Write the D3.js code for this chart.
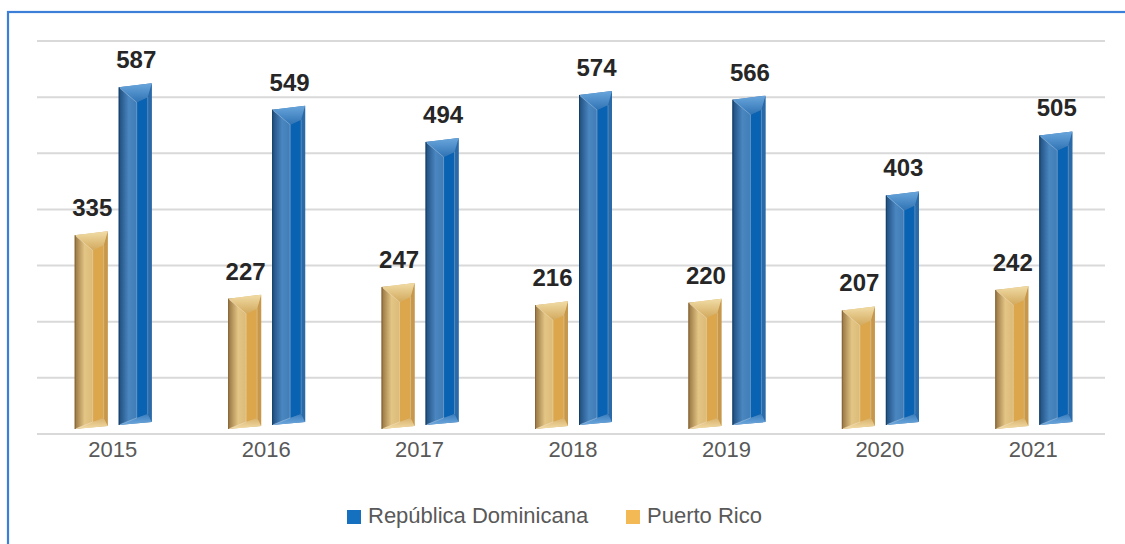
<!DOCTYPE html>
<html>
<head>
<meta charset="utf-8">
<script src="https://cdn.jsdelivr.net/npm/d3@7"></script>
<style>
  html,body{margin:0;padding:0;background:#fff;}
  svg{display:block;font-family:Arial,"Liberation Sans",sans-serif;}
</style>
</head>
<body>
<div id="chart"></div>
<script>
"use strict";
// columnas biseladas tipo Excel: Puerto Rico vs República Dominicana, 2015–2021
const years = ["2015","2016","2017","2018","2019","2020","2021"];
const puertoRico = [335,227,247,216,220,207,242];
const repDominicana = [587,549,494,574,566,403,505];
const seriesNames = ["República Dominicana","Puerto Rico"];
const gridSteps = [0,1,2,3,4,5,6,7];

const W = 1125, H = 544;
const svg = d3.select("#chart").append("svg").attr("width",W).attr("height",H);
const defs = svg.append("defs");

// paletas por serie: cara izquierda (gradiente), frente, canto derecho, tapa
const PAL = {
  rd: { l0:"#1d4c7c", l1:"#4a86c0", l2:"#2f6aa5", front:"#0a63b2", right:"#2a6aa8", cap0:"#6aa6dc", cap1:"#2f73b4", bot0:"#6fa9de", bot1:"#3a7dbd", edge:"#173f66" },
  pr: { l0:"#96733f", l1:"#e3c585", l2:"#d0a860", front:"#dba64c", right:"#c7984c", cap0:"#f1dca6", cap1:"#d2a95d", bot0:"#f3dda8", bot1:"#d8b06a", edge:"#86663a" }
};
Object.entries(PAL).forEach(([k,p])=>{
  const lg = defs.append("linearGradient").attr("id","left_"+k).attr("x1","0").attr("x2","1").attr("y1","0").attr("y2","0");
  lg.append("stop").attr("offset","0%").attr("stop-color",p.l0);
  lg.append("stop").attr("offset","30%").attr("stop-color",p.l1);
  lg.append("stop").attr("offset","100%").attr("stop-color",p.l2);
  const cg = defs.append("linearGradient").attr("id","cap_"+k).attr("x1","0").attr("x2","0").attr("y1","0").attr("y2","1");
  cg.append("stop").attr("offset","0%").attr("stop-color",p.cap0);
  cg.append("stop").attr("offset","100%").attr("stop-color",p.cap1);
  const bg = defs.append("linearGradient").attr("id","bot_"+k).attr("x1","0").attr("x2","0").attr("y1","1").attr("y2","0");
  bg.append("stop").attr("offset","0%").attr("stop-color",p.bot0);
  bg.append("stop").attr("offset","100%").attr("stop-color",p.bot1);
});

// marco azul (solo se ven arriba e izquierda)
svg.append("rect").attr("x",8).attr("y",12).attr("width",W+20).attr("height",H+20)
  .attr("fill","none").attr("stroke","#3b7fd8").attr("stroke-width",2.2);

const x = d3.scaleBand().domain(years).range([36,1110]);
const y = d3.scaleLinear().domain([0,700]).range([432,21]);
const yGrid = d3.scaleLinear().domain([0,7]).range([434,41]);

// rejilla
svg.append("g").selectAll("line").data(gridSteps).join("line")
  .attr("x1",37).attr("x2",1105)
  .attr("y1",(d)=>yGrid(d)).attr("y2",(d)=>yGrid(d))
  .attr("stroke","#d9d9d9").attr("stroke-width",2);

// eje X (solo etiquetas)
const xAxis = svg.append("g").attr("transform","translate(0,434)")
  .call(d3.axisBottom(x).tickSize(0).tickPadding(0));
xAxis.select(".domain").remove();
xAxis.selectAll("text").attr("y",23).attr("dy",0).attr("font-size",22).attr("fill","#595959")
  .attr("font-family","Arial,'Liberation Sans',sans-serif");

const BW = 33, GAP = 10, RIDGE = 18, RIN = 29, SLANT = 4;
const bars = [];
years.forEach((yr,i)=>{
  const c = x(yr) + x.bandwidth()/2;
  bars.push({ k:"pr", v:puertoRico[i], x0:c - GAP/2 - BW, bot:y(0)-3 });
  bars.push({ k:"rd", v:repDominicana[i], x0:c + GAP/2 + 1, bot:y(0)-7 });
});

const pts = (a)=> a.map((p)=>p.join(",")).join(" ");
const bg = svg.append("g").selectAll("g").data(bars).join("g");
bg.each(function(d){
  const g = d3.select(this), p = PAL[d.k];
  const x0 = d.x0, x1 = d.x0 + BW, xr = d.x0 + RIDGE, xi = d.x0 + RIN;
  const t = y(d.v), b = d.bot;
  // silueta / cara izquierda
  g.append("polygon").attr("points",pts([[x0,t],[x1,t-SLANT],[x1,b-SLANT+1],[x0,b]])).attr("fill",`url(#left_${d.k})`);
  // frente
  g.append("polygon").attr("points",pts([[xr,t+15],[xi,t+10],[xi,b-11],[xr,b-7]])).attr("fill",p.front);
  // canto derecho
  g.append("polygon").attr("points",pts([[xi,t+10],[x1,t-SLANT],[x1,b-SLANT+1],[xi,b-11]])).attr("fill",p.right);
  // tapa superior
  g.append("polygon").attr("points",pts([[x0,t],[x1,t-SLANT],[xi,t+10],[xr,t+15]])).attr("fill",`url(#cap_${d.k})`);
  // bisel inferior
  g.append("polygon").attr("points",pts([[x0,b],[xr,b-7],[xi,b-11],[x1,b-SLANT+1]])).attr("fill",`url(#bot_${d.k})`);
  // aristas claras
  g.append("polyline").attr("points",pts([[x0,t],[xr,t+15],[xr,b-7],[x0,b]])).attr("fill","none").attr("stroke","#ffffff").attr("stroke-opacity",0.35).attr("stroke-width",0.8);
  g.append("line").attr("x1",xi).attr("y1",t+10).attr("x2",xi).attr("y2",b-11).attr("stroke","#ffffff").attr("stroke-opacity",0.3).attr("stroke-width",0.8);
  g.append("line").attr("x1",x0+0.5).attr("y1",t).attr("x2",x0+0.5).attr("y2",b).attr("stroke",p.edge).attr("stroke-width",1);
});

// etiquetas de valor
svg.append("g").selectAll("text").data(bars).join("text")
  .attr("x",(d)=>d.x0 + BW/2 + 1).attr("y",(d)=>y(d.v) - 19)
  .attr("text-anchor","middle").attr("font-size",24).attr("font-weight","bold").attr("fill","#262626")
  .text((d)=>d.v);

// leyenda
const legend = [{ name:seriesNames[0], color:"#1570c0", x:347 }, { name:seriesNames[1], color:"#f3b954", x:626 }];
const lg = svg.append("g").selectAll("g").data(legend).join("g").attr("transform",(d)=>`translate(${d.x},510)`);
lg.append("rect").attr("width",14).attr("height",14).attr("fill",(d)=>d.color);
lg.append("text").attr("x",21).attr("y",13).attr("font-size",22).attr("fill","#595959").text((d)=>d.name);
</script>
</body>
</html>
